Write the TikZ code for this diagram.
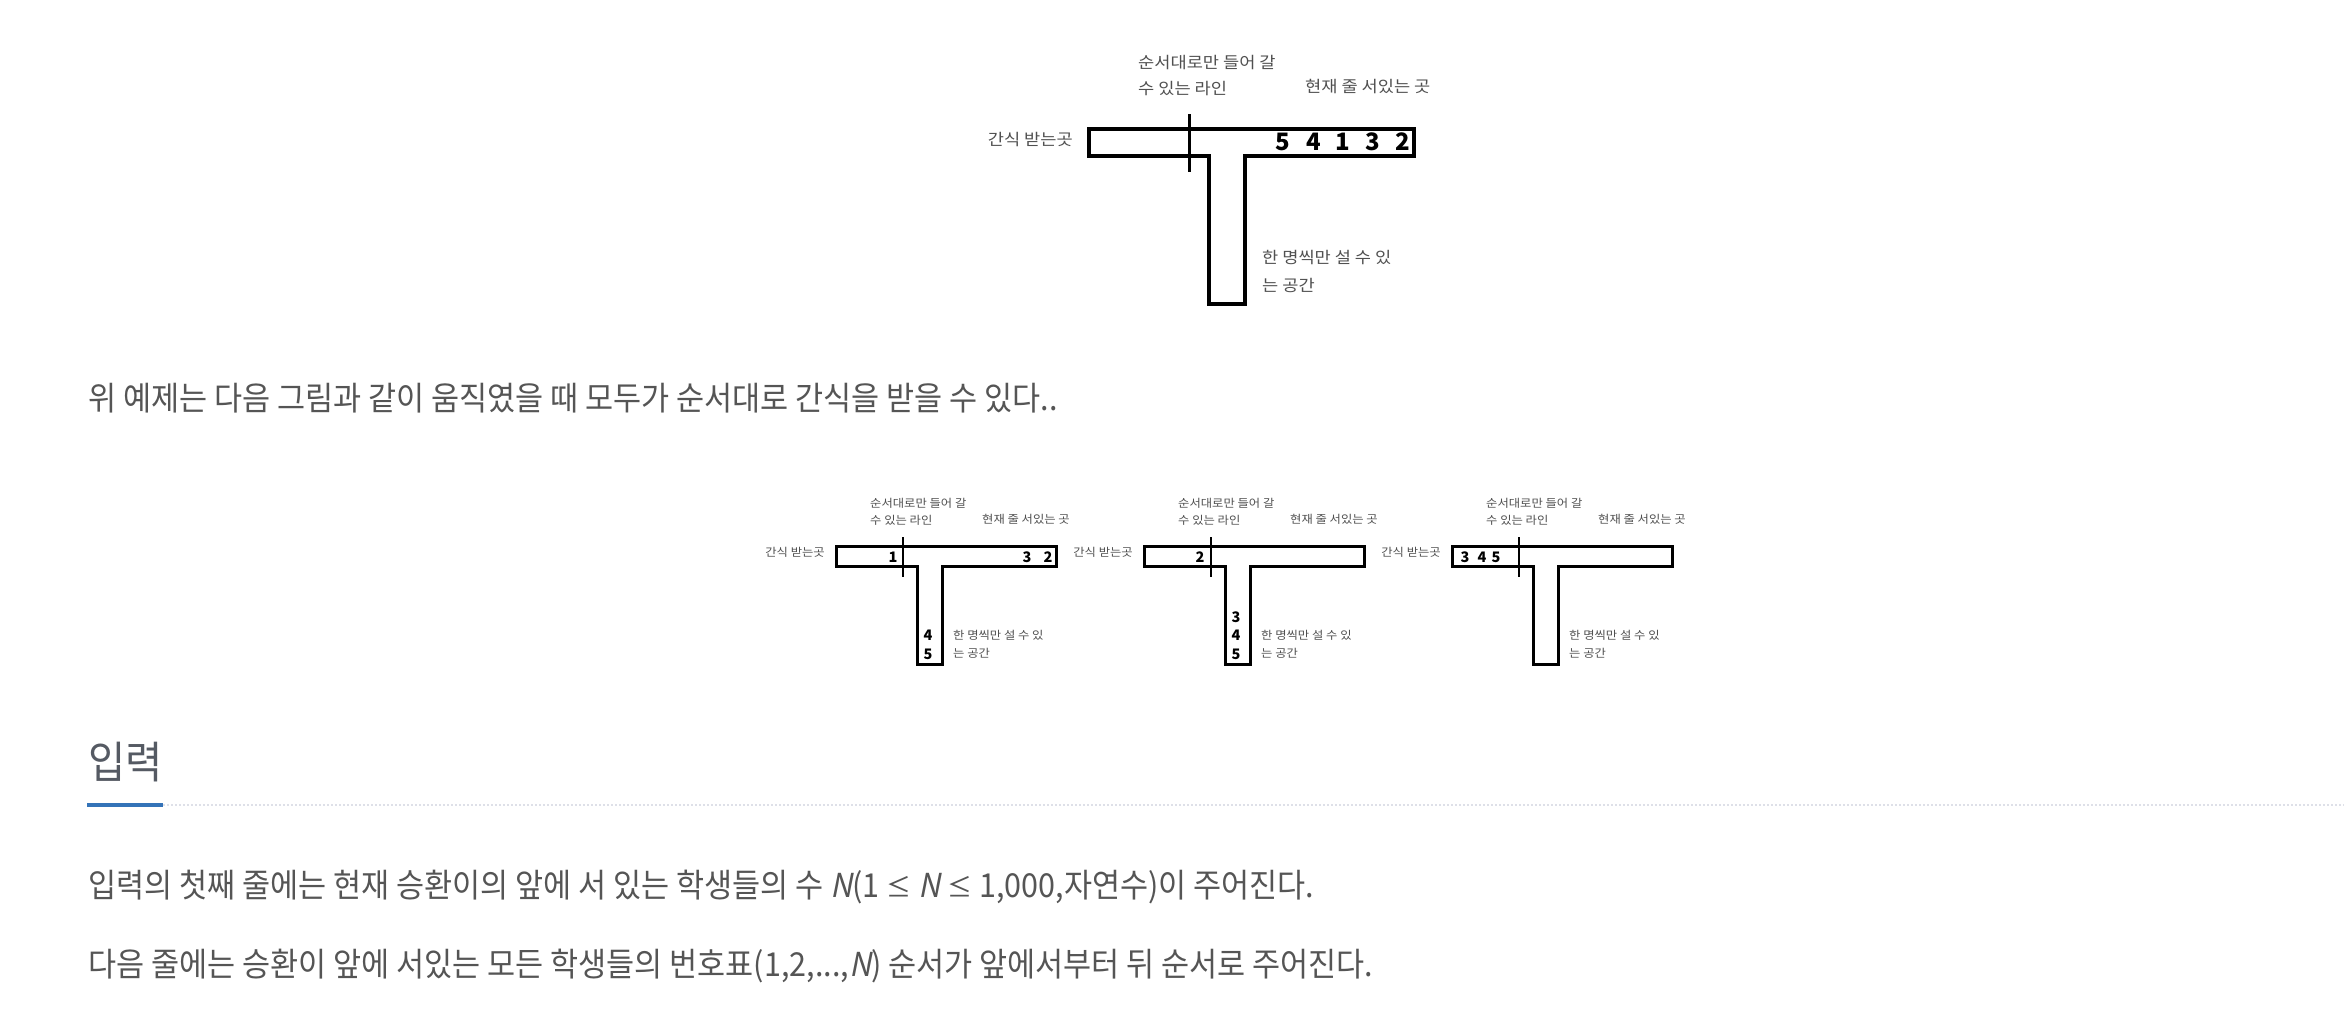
\documentclass[tikz,border=0pt]{standalone}
\usepackage{fontspec}
\newfontfamily\krbody[FakeStretch=0.925,ItalicFont={Noto Sans CJK KR},ItalicFeatures={FakeSlant=0.2}]{Noto Sans CJK KR}
\newfontfamily\krhead[FakeStretch=0.92]{Noto Sans CJK KR}
\newfontfamily\krlab[FakeStretch=1.1]{Noto Sans CJK KR}
\newfontfamily\krnum{Noto Sans CJK KR}
\definecolor{bodygray}{RGB}{85,85,85}
\definecolor{headgray}{RGB}{85,90,99}
\definecolor{labgray}{RGB}{80,80,80}
\definecolor{barblue}{RGB}{52,115,184}
\definecolor{dotgray}{RGB}{222,224,232}
\newcommand{\smle}{{\fontsize{27}{27}\selectfont ≤}}
\tikzset{
  biglab/.style={font=\krlab\fontsize{16}{16}\selectfont, text=labgray, inner sep=0pt},
  smlab/.style={font=\krlab\fontsize{11.2}{11.2}\selectfont, text=labgray, inner sep=0pt},
  bignum/.style={font=\krnum\bfseries\fontsize{24}{24}\selectfont, inner sep=0pt},
  smnum/.style={font=\krnum\bfseries\fontsize{14.5}{14.5}\selectfont, inner sep=0pt},
  bodytxt/.style={font=\krbody\fontsize{33}{33}\selectfont, text=bodygray, inner sep=0pt, anchor=base west},
  headtxt/.style={font=\krhead\fontsize{44}{44}\selectfont, text=headgray, inner sep=0pt, anchor=base west},
  bigT/.style={draw=black, line width=4, line join=miter},
  smT/.style={draw=black, line width=3, line join=miter},
}
\begin{document}
\begin{tikzpicture}[x=1pt,y=-1pt]
\useasboundingbox[fill=white] (0,0) rectangle (2344,1028);

% ---- big T ----
\draw[bigT] (1089,129) -- (1414,129) -- (1414,156) -- (1245,156) -- (1245,304)
  -- (1209,304) -- (1209,156) -- (1089,156) -- cycle;
\draw[line width=3] (1189,114) -- (1189,172);
\node[biglab, anchor=west] (bq1) at (1138,63) {순서대로만 들어 갈};
\node[biglab, anchor=west] (bq2) at (1138,89) {수 있는 라인};
\node[biglab, anchor=west] (bcur) at (1305,87) {현재 줄 서있는 곳};
\node[biglab, anchor=east] (bsnack) at (1073,140) {간식 받는곳};
\node[biglab, anchor=west] (bone1) at (1262,258) {한 명씩만 설 수 있};
\node[biglab, anchor=west] (bone2) at (1262,285) {는 공간};
\node[bignum] (n5) at (1283,142) {5};
\node[bignum] (n4) at (1314,142) {4};
\node[bignum] (n1) at (1343,142) {1};
\node[bignum] (n3) at (1373,142) {3};
\node[bignum] (n2) at (1403,142) {2};

% ---- three small T's ----
\foreach \i/\ox in {1/836, 2/1144, 3/1452} {
  \begin{scope}[shift={(\ox,546)}]
    \draw[smT] (0,0) -- (220,0) -- (220,20) -- (106,20) -- (106,118)
      -- (81,118) -- (81,20) -- (0,20) -- cycle;
    \draw[line width=2.5] (67,-9) -- (67,31);
    \node[smlab, anchor=west] (sq1\i) at (34,-43) {순서대로만 들어 갈};
    \node[smlab, anchor=west] (sq2\i) at (34,-26) {수 있는 라인};
    \node[smlab, anchor=west] (scur\i) at (146,-27) {현재 줄 서있는 곳};
    \node[smlab, anchor=east] (ssnack\i) at (-11,6) {간식 받는곳};
    \node[smlab, anchor=west] (sone1\i) at (117,89) {한 명씩만 설 수 있};
    \node[smlab, anchor=west] (sone2\i) at (117,107) {는 공간};
  \end{scope}
}
% numbers, T1
\node[smnum] (a1) at (893,557) {1};
\node[smnum] (a3) at (1027,557) {3};
\node[smnum] (a2) at (1048,557) {2};
\node[smnum] (a4) at (928,635) {4};
\node[smnum] (a5) at (928,654) {5};
% numbers, T2
\node[smnum] (b2) at (1200,557) {2};
\node[smnum] (b3) at (1236,617) {3};
\node[smnum] (b4) at (1236,635) {4};
\node[smnum] (b5) at (1236,654) {5};
% numbers, T3
\node[smnum] (c3) at (1465,557) {3};
\node[smnum] (c4) at (1482,557) {4};
\node[smnum] (c5) at (1496,557) {5};

% ---- text ----
\node[bodytxt] (p1) at (88,410) {위 예제는 다음 그림과 같이 움직였을 때 모두가 순서대로 간식을 받을 수 있다..};
\node[headtxt] (h1) at (88,778) {입력};
\draw[dotgray, line width=2, dash pattern=on 2 off 2] (163,805) -- (2344,805);
\draw[barblue, line width=4] (87,805) -- (163,805);
\node[bodytxt] (l1) at (88,897) {입력의 첫째 줄에는 현재 승환이의 앞에 서 있는 학생들의 수 \textit{N}(1 \smle{} \textit{N} \smle{} 1,000,자연수)이 주어진다.};
\node[bodytxt] (l2) at (88,976) {다음 줄에는 승환이 앞에 서있는 모든 학생들의 번호표(1,2,...,\textit{N}) 순서가 앞에서부터 뒤 순서로 주어진다.};
\end{tikzpicture}
\end{document}
